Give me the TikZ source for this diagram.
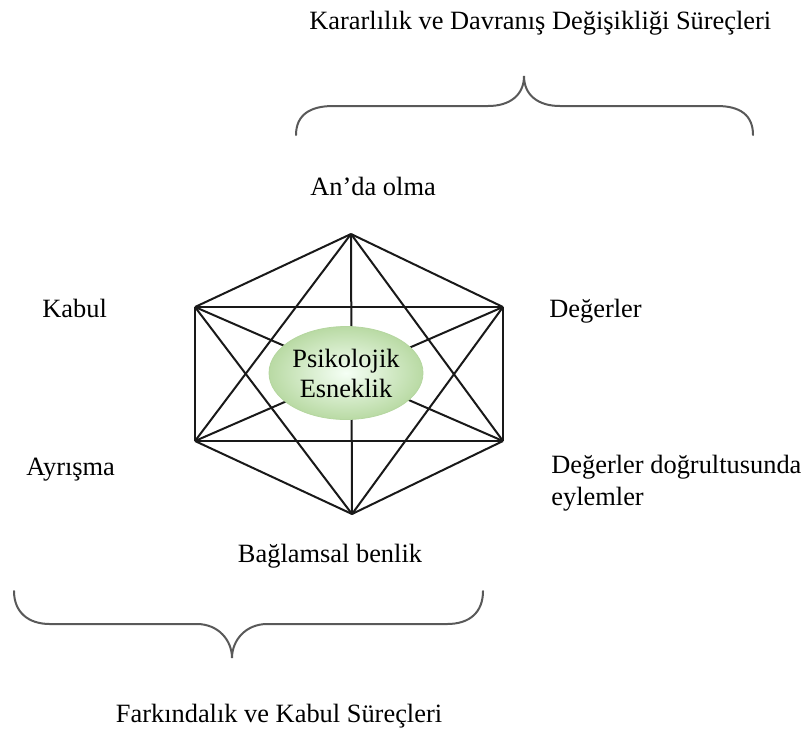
\documentclass[tikz,border=0pt]{standalone}
\usepackage{fontspec}
\setmainfont{Liberation Serif}
\usetikzlibrary{positioning}
\usetikzlibrary{shapes.geometric}
\definecolor{bracegray}{HTML}{595959}
\definecolor{ellfill}{HTML}{B9DAA4}
\definecolor{ellborder}{HTML}{B5D6A0}

\begin{document}
\begin{tikzpicture}[x=0.5pt,y=-0.5pt,
                every node/.style={font=\fontsize{13.2}{16}\selectfont},
                lbl/.style={anchor=base west,inner sep=0pt,align=left},
                link/.style={line width=1pt,black!90},
                brace/.style={line width=1pt,bracegray,line cap=round}]
\useasboundingbox (0,0) rectangle (806,740);
% corners of the hexagon
\coordinate (top) at (351,234);
\coordinate (ul) at (195,307);
\coordinate (ur) at (503,307);
\coordinate (ll) at (195,441);
\coordinate (lr) at (503,441);
\coordinate (bot) at (352,514);
\foreach \a/\b in {top/ul,top/ur,top/ll,top/lr,top/bot,
                   ul/ur,ul/ll,ul/lr,ul/bot,
                   ur/ll,ur/lr,ur/bot,
                   ll/lr,ll/bot,lr/bot}
   \draw[link] (\a) -- (\b);
\node[ellipse,inner sep=0pt,minimum width=77pt,minimum height=46.5pt,draw=ellborder,
      inner color=green!4!white,outer color=ellfill,align=center,
      font=\fontsize{13.2}{15}\selectfont] (core) at (346,373) {Psikolojik\\Esneklik};
% labels
\node[lbl] (title) at (309,29) {Kararlılık ve Davranış Değişikliği Süreçleri};
\node[lbl] (anda) at (310,195) {An’da olma};
\node[lbl] (kabul) at (42,317) {Kabul};
\node[lbl] (deger) at (549,317) {Değerler};
\node[lbl] (ayris) at (26,475) {Ayrışma};
\node[lbl] (eylem) at (551,505) {Değerler doğrultusunda\\eylemler};
\node[anchor=base,inner sep=0pt] (benlik) at (330,562) {Bağlamsal benlik};
\node[anchor=base,inner sep=0pt] (fark) at (279,722) {Farkındalık ve Kabul Süreçleri};
% braces
\draw[brace] (296,135) .. controls (296,115) and (310,106) .. (333,106)
   -- (488,106) .. controls (510,106) and (524,95) .. (524,76)
   .. controls (524,95) and (538,106) .. (560,106)
   -- (717,106) .. controls (740,106) and (753,115) .. (753,135);
\draw[brace] (14,591) .. controls (14,612) and (28,624) .. (50,624)
   -- (197,624) .. controls (218,624) and (232,640) .. (232,658)
   .. controls (232,640) and (246,624) .. (267,624)
   -- (447,624) .. controls (470,624) and (483,612) .. (483,591);
\end{tikzpicture}
\end{document}
